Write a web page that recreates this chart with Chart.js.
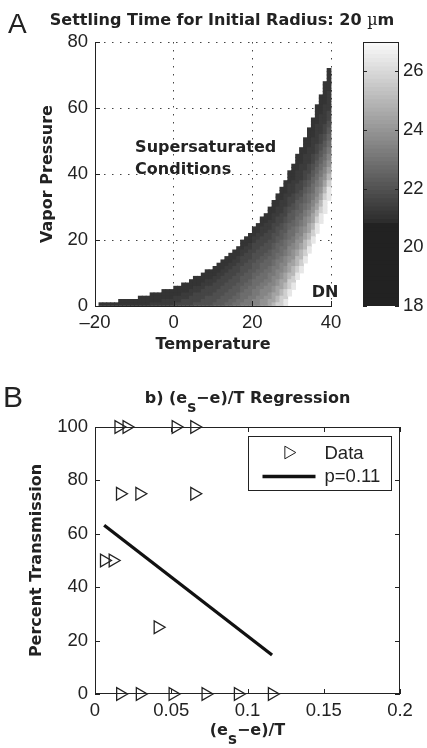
<!DOCTYPE html>
<html lang="en">
<head>
<meta charset="UTF-8">
<title>Settling time and transmission regression</title>
<script src="https://cdn.jsdelivr.net/npm/chart.js@4.4.0/dist/chart.umd.min.js"></script>
<style>
  html, body { margin: 0; padding: 0; background: #fff; }
  body { width: 427px; height: 748px; position: relative; overflow: hidden; }
  canvas { position: absolute; }
  #panelA { left: 0; top: 0; }
  #colorBar { left: 355px; top: 0; z-index: 2; }
  #panelB { left: 0; top: 380px; }
</style>
</head>
<body>
<canvas id="panelA" width="427" height="380"></canvas>
<canvas id="colorBar" width="72" height="380"></canvas>
<canvas id="panelB" width="427" height="368"></canvas>
<script>
// ---- Panel A: one column per 1 degC, cells of 1 hPa ----
// column centres (degC)
const cellTemps = [-18.5, -17.5, -16.5, -15.5, -14.5, -13.5, -12.5, -11.5, -10.5, -9.5,
  -8.5, -7.5, -6.5, -5.5, -4.5, -3.5, -2.5, -1.5, -0.5, 0.5,
  1.5, 2.5, 3.5, 4.5, 5.5, 6.5, 7.5, 8.5, 9.5, 10.5,
  11.5, 12.5, 13.5, 14.5, 15.5, 16.5, 17.5, 18.5, 19.5, 20.5,
  21.5, 22.5, 23.5, 24.5, 25.5, 26.5, 27.5, 28.5, 29.5, 30.5,
  31.5, 32.5, 33.5, 34.5, 35.5, 36.5, 37.5, 38.5, 39.5];
// top of each column (saturation staircase, hPa)
const cellTops = [1, 1, 1, 1, 1, 2, 2, 2, 2, 2,
  3, 3, 3, 4, 4, 4, 5, 5, 5, 6,
  6, 7, 7, 8, 9, 9, 10, 11, 11, 12,
  13, 14, 15, 16, 17, 18, 20, 21, 22, 24,
  25, 27, 28, 30, 32, 34, 36, 38, 41, 43,
  46, 48, 51, 54, 57, 61, 64, 68, 72];
// grey level of each cell, read from the top of the column downwards
const cellLevels = ['0', '0', '0', '0', '0', '00', '00', '00', '00', '00',
  '000', '000', '000', '0001', '0001', '0001', '00011', '00011', '00011', '000112',
  '000112', '0001122', '0001122', '00011222', '000112223', '000112223', '0001122233', '00011222333', '00011222333', '000112223334',
  '0001122233344', '00011222333444', '000112223334445', '0001122233344455', '00011222333444556',
  '000112223334445566', '00011222333444556667', '000112223334445566677', '0001122233344455666777', '000112223334445566677788',
  '0001122233344455666777888', '000111222333445556667788899', '0001112223334455566677888999',
  '0000111222333445556677788899aa', '0000111222333445556677788899aaab', '0000111222333445556677788899aaabbc',
  '0000111122233444556667788899aaabbccc', '0000111122233444556667788899aaabbcccdd', '0000111122233444556667788899aaabbcccdd',
  '00000111122233444556667788999aabbbccdd',
  '00000111122233444556667788999aabbbccdd', '00000111112223344555667788899aabbbccdd', '00000111112223344555667788899aabbbccdd',
  '00000011111222334455666778899aaabbccdd', '00000011111222334455666778899aaabbccdd',
  '000000111111222334455667788899aabbccddd', '000000111111222334455667788899aabbccddd',
  '000000011111122233445566778899aabbccdddd', '000000011111122233445566778899aabbccdddd'];
// settling time for each grey level 0..d
const levelValues = [21.1, 21.3, 21.6, 21.9, 22.2, 22.5, 22.8, 23.1, 23.5, 23.9, 24.4, 25.0, 25.7, 26.4];

// ---- Panel B ----
const xData = [0.0155, 0.0208, 0.053, 0.0652, 0.0165, 0.0292, 0.0652, 0.006, 0.0117, 0.0412,
  0.0166, 0.0295, 0.051, 0.0726, 0.0938, 0.1161];
const yData = [100, 100, 100, 100, 75, 75, 75, 50, 50, 25, 0, 0, 0, 0, 0, 0];
const fitX = [0.006, 0.1161];
const fitY = [63.2, 14.6];

const ink = '#222';
const plainFace = '"Liberation Sans", Arial, Helvetica, sans-serif';
const tickFont = { family: plainFace, size: 18.5 };
const boldFont = 'bold 16px "DejaVu Sans", sans-serif';

// grey colormap of the colour bar (flat dark up to 20.8, then linear to white at 27)
function grayFor(v) {
    const g = v <= 20.8 ? 34 : Math.round(42 + Math.min(1, (v - 20.8) / 6.2) * 209);
    return `rgb(${g},${g},${g})`;
}

function drawRuns(ctx, runs, cx, baseline) {
    let total = 0;
    runs.forEach(r => { ctx.font = r.font; r.w = ctx.measureText(r.text).width; total += r.w; });
    let x = cx - total / 2;
    ctx.textAlign = 'left';
    ctx.textBaseline = 'alphabetic';
    runs.forEach(r => {
        ctx.font = r.font;
        ctx.fillText(r.text, x, baseline + (r.dy || 0));
        x += r.w;
    });
}

function drawRotated(ctx, text, x, y) {
    ctx.save();
    ctx.translate(x, y);
    ctx.rotate(-Math.PI / 2);
    ctx.textAlign = 'center';
    ctx.textBaseline = 'alphabetic';
    ctx.fillText(text, 0, 0);
    ctx.restore();
}

// panel A decorations: inner ticks, titles, notes
const decorA = {
    id: 'decorA',
    afterDraw(chart) {
        const { ctx, chartArea: a, scales: { x, y } } = chart;
        ctx.save();
        ctx.strokeStyle = ink;
        ctx.lineWidth = 1;
        ctx.beginPath();
        y.ticks.forEach(t => {
            const p = Math.round(y.getPixelForValue(t.value)) + 0.5;
            ctx.moveTo(a.left, p); ctx.lineTo(a.left + 5, p);
        });
        x.ticks.forEach(t => {
            const p = Math.round(x.getPixelForValue(t.value)) + 0.5;
            ctx.moveTo(p, a.bottom); ctx.lineTo(p, a.bottom - 5);
        });
        ctx.stroke();

        ctx.fillStyle = ink;
        ctx.font = `28px ${plainFace}`;
        ctx.textAlign = 'left';
        ctx.textBaseline = 'alphabetic';
        ctx.fillText('A', 8, 33);

        // title sized to span about 345 px
        const head = 'Settling Time for Initial Radius: 20 ';
        ctx.font = 'bold 17px "DejaVu Sans", sans-serif';
        const w17 = ctx.measureText(head + 'm').width;
        ctx.font = '17px "DejaVu Serif", serif';
        const mu17 = ctx.measureText('\u00b5').width;
        const size = Math.max(14, Math.min(19, 17 * 345 / (w17 + mu17)));
        const tFont = `bold ${size}px "DejaVu Sans", sans-serif`;
        drawRuns(ctx, [
            { text: head, font: tFont },
            { text: '\u00b5', font: `${size}px "DejaVu Serif", serif` },
            { text: 'm', font: tFont }
        ], 222, 25);

        ctx.font = boldFont;
        ctx.textAlign = 'center';
        ctx.fillText('Temperature', (a.left + a.right) / 2, 348.5);
        drawRotated(ctx, 'Vapor Pressure', 52, (a.top + a.bottom) / 2);

        ctx.textAlign = 'left';
        const sx = x.getPixelForValue(-9.8);
        const sy = y.getPixelForValue(46.8);
        ctx.fillText('Supersaturated', sx, sy);
        ctx.fillText('Conditions', sx, sy + 22);
        ctx.fillText('DN', x.getPixelForValue(35.1), y.getPixelForValue(2.8));
        ctx.restore();
    }
};

const decorBar = {
    id: 'decorBar',
    afterDraw(chart) {
        const { ctx, chartArea: a, scales: { y } } = chart;
        ctx.save();
        ctx.strokeStyle = ink;
        ctx.lineWidth = 1;
        ctx.strokeRect(a.left + 0.5, a.top + 0.5, a.width - 1, a.height - 1);
        ctx.beginPath();
        y.ticks.forEach(t => {
            const p = Math.round(y.getPixelForValue(t.value)) + 0.5;
            ctx.moveTo(a.left, p); ctx.lineTo(a.left + 4, p);
            ctx.moveTo(a.right, p); ctx.lineTo(a.right - 4, p);
        });
        ctx.stroke();
        ctx.restore();
    }
};

const decorB = {
    id: 'decorB',
    afterDraw(chart) {
        const { ctx, chartArea: a, scales: { x, y } } = chart;
        ctx.save();
        ctx.strokeStyle = ink;
        ctx.lineWidth = 1;
        ctx.strokeRect(Math.round(a.left) + 0.5, Math.round(a.top) + 0.5, Math.round(a.width) - 1, Math.round(a.height) - 1);
        ctx.beginPath();
        x.ticks.forEach(t => {
            const p = Math.round(x.getPixelForValue(t.value)) + 0.5;
            ctx.moveTo(p, a.bottom); ctx.lineTo(p, a.bottom - 5);
            ctx.moveTo(p, a.top); ctx.lineTo(p, a.top + 5);
        });
        y.ticks.forEach(t => {
            const p = Math.round(y.getPixelForValue(t.value)) + 0.5;
            ctx.moveTo(a.left, p); ctx.lineTo(a.left + 5, p);
            ctx.moveTo(a.right, p); ctx.lineTo(a.right - 5, p);
        });
        ctx.stroke();

        // legend inside the axes, top right
        const sets = chart.data.datasets;
        const bw = 143, bh = 54;
        const bx = Math.round(a.right - 9 - bw) + 0.5;
        const by = Math.round(a.top + 9) + 0.5;
        ctx.fillStyle = '#fff';
        ctx.fillRect(bx, by, bw, bh);
        ctx.strokeRect(bx, by, bw, bh);
        Chart.helpers.drawPoint(ctx, {
            pointStyle: 'triangle', rotation: 90, radius: 7.3, borderWidth: 1.3
        }, bx + 40, by + 16);
        ctx.lineWidth = 3.3;
        ctx.strokeStyle = '#111';
        ctx.beginPath();
        ctx.moveTo(bx + 14, by + 40);
        ctx.lineTo(bx + 67, by + 40);
        ctx.stroke();
        ctx.fillStyle = ink;
        ctx.font = `18.5px ${plainFace}`;
        ctx.textAlign = 'left';
        ctx.textBaseline = 'alphabetic';
        ctx.fillText(sets[0].label, bx + 76, by + 22);
        ctx.fillText(sets[1].label, bx + 76, by + 45.5);

        ctx.font = `30px ${plainFace}`;
        ctx.fillText('B', 3, 27);

        const cx = (a.left + a.right) / 2;
        drawRuns(ctx, [
            { text: 'b) (e', font: boldFont },
            { text: 's', font: 'bold 15px "DejaVu Sans", sans-serif', dy: 9 },
            { text: '\u2212e)/T Regression', font: boldFont }
        ], cx, 23.3);
        drawRuns(ctx, [
            { text: '(e', font: boldFont },
            { text: 's', font: 'bold 15px "DejaVu Sans", sans-serif', dy: 9 },
            { text: '\u2212e)/T', font: boldFont }
        ], cx, 355);
        ctx.font = boldFont;
        drawRotated(ctx, 'Percent Transmission', 41, (a.top + a.bottom) / 2);
        ctx.restore();
    }
};

// build grid cells from the column tables
const cells = [];
cellTemps.forEach((t, c) => {
    const levels = cellLevels[c];
    for (let i = 0; i < levels.length; i++) {
        const top = cellTops[c] - i;
        cells.push({ x: t, y: [top - 1, top], v: levelValues[parseInt(levels[i], 16)] });
    }
});

new Chart(document.getElementById('panelA'), {
    type: 'bar',
    data: {
        datasets: [{
            data: cells,
            backgroundColor: c => grayFor(c.raw.v),
            borderWidth: 0,
            barPercentage: 1,
            categoryPercentage: 1,
            inflateAmount: 0.4,
            clip: false
        }]
    },
    options: {
        responsive: false,
        animation: false,
        devicePixelRatio: 1,
        layout: { padding: { top: 42, right: 96, left: 0, bottom: 0 } },
        plugins: { legend: { display: false }, tooltip: { enabled: false } },
        scales: {
            x: {
                type: 'linear', min: -20, max: 40, offset: false,
                afterFit: s => { s.height = 74; },
                ticks: {
                    stepSize: 20, font: tickFont, color: ink, padding: 6, maxRotation: 0,
                    callback: v => String(v).replace('-', '\u2013')
                },
                grid: { color: '#444', lineWidth: 1, drawTicks: false, offset: false },
                border: { display: true, color: ink, width: 1, dash: [1.5, 6.5], z: 1 }
            },
            y: {
                min: 0, max: 80,
                afterFit: s => { s.width = 95; },
                ticks: { stepSize: 20, font: tickFont, color: ink, padding: 7 },
                grid: { color: '#444', lineWidth: 1, drawTicks: false },
                border: { display: true, color: ink, width: 1, dash: [1.5, 6.5], z: 1 }
            }
        }
    },
    plugins: [decorA]
});

// colour bar: 64 bands of the grey map
const bandEdges = [];
for (let k = 0; k <= 64; k++) bandEdges.push(18 + 9 * k / 64);
new Chart(document.getElementById('colorBar'), {
    type: 'bar',
    data: {
        labels: [''],
        datasets: bandEdges.slice(0, -1).map((lo, k) => ({
            data: [[lo, bandEdges[k + 1]]],
            backgroundColor: grayFor((lo + bandEdges[k + 1]) / 2),
            borderWidth: 0,
            barPercentage: 1,
            categoryPercentage: 1,
            grouped: false,
            inflateAmount: 0.5
        }))
    },
    options: {
        responsive: false,
        animation: false,
        devicePixelRatio: 1,
        layout: { padding: { top: 42, right: 0, left: 8, bottom: 74 } },
        plugins: { legend: { display: false }, tooltip: { enabled: false } },
        scales: {
            x: { display: false },
            y: {
                position: 'right', min: 18, max: 27,
                afterFit: s => { s.width = 28; },
                ticks: { stepSize: 2, includeBounds: false, font: tickFont, color: ink, padding: 4 },
                grid: { display: false, drawTicks: false },
                border: { display: false }
            }
        }
    },
    plugins: [decorBar]
});

new Chart(document.getElementById('panelB'), {
    type: 'scatter',
    data: {
        datasets: [{
            label: 'Data',
            data: xData.map((x, i) => ({ x, y: yData[i] })),
            pointStyle: 'triangle',
            pointRotation: 90,
            pointRadius: 7.3,
            pointBorderWidth: 1.3,
            pointBorderColor: ink,
            pointBackgroundColor: 'rgba(0,0,0,0)',
            clip: false
        }, {
            label: 'p=0.11',
            type: 'line',
            data: fitX.map((x, i) => ({ x, y: fitY[i] })),
            borderColor: '#111',
            borderWidth: 3.3,
            pointRadius: 0,
            fill: false,
            clip: false
        }]
    },
    options: {
        responsive: false,
        animation: false,
        devicePixelRatio: 1,
        layout: { padding: { top: 47, right: 27, left: 0, bottom: 0 } },
        plugins: { legend: { display: false }, tooltip: { enabled: false } },
        scales: {
            x: {
                type: 'linear', min: 0, max: 0.2,
                afterFit: s => { s.height = 54; },
                ticks: {
                    stepSize: 0.05, font: tickFont, color: ink, padding: 6, maxRotation: 0,
                    callback: v => String(+v.toFixed(2))
                },
                grid: { display: false, drawTicks: false },
                border: { display: false }
            },
            y: {
                min: 0, max: 100,
                afterFit: s => { s.width = 95; },
                ticks: { stepSize: 20, font: tickFont, color: ink, padding: 7 },
                grid: { display: false, drawTicks: false },
                border: { display: false }
            }
        }
    },
    plugins: [decorB]
});
</script>
</body>
</html>
